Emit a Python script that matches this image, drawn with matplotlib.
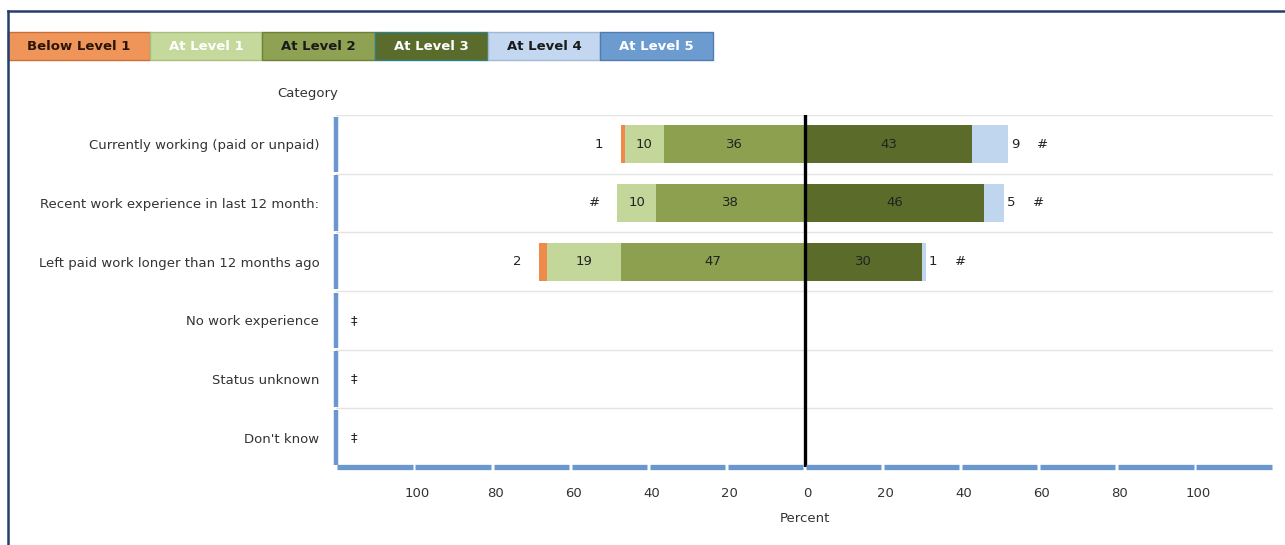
import matplotlib
matplotlib.use("Agg")
import matplotlib.pyplot as plt
from matplotlib.patches import Rectangle
from matplotlib.lines import Line2D
from matplotlib.transforms import ScaledTranslation

categories = [
    "Currently working (paid or unpaid)",
    "Recent work experience in last 12 month:",
    "Left paid work longer than 12 months ago",
    "No work experience",
    "Status unknown",
    "Don't know",
]
below_level1 = [1, 0, 2]
at_level1 = [10, 10, 19]
at_level2 = [36, 38, 47]
at_level3 = [43, 46, 30]
at_level4 = [9, 5, 1]
below_labels = ["1", "#", "2"]
level4_labels = ["9", "5", "1"]
level5_labels = ["#", "#", "#"]
no_data_labels = ["\u2021", "\u2021", "\u2021"]
x_ticks = [-100, -80, -60, -40, -20, 0, 20, 40, 60, 80, 100]

legend_names = ["Below Level 1", "At Level 1", "At Level 2", "At Level 3", "At Level 4", "At Level 5"]
legend_colors = ["#F0955A", "#C6D99C", "#8FA152", "#5A6C2B", "#C3D8F0", "#6C9BD0"]
legend_text = ["#2A1608", "white", "#1A1A1A", "white", "#1A1A1A", "white"]
legend_edges = ["#C87038", "#A9BE7E", "#6F8038", "#2E7F86", "#9FB8D6", "#4F7DB3"]

c_below = "#EE8A4A"
c_l1 = "#C4D79B"
c_l2 = "#8DA050"
c_l3 = "#5B6C2A"
c_l4 = "#C0D6EF"
axis_blue = "#6A98CE"
fs = 9.5

W, H = 1285, 545
fig = plt.figure(figsize=(W / 100, H / 100), dpi=100)
fig.patch.set_facecolor("white")


def fx(px):
    return px / W


def fy(py):
    return 1 - py / H


ax = fig.add_axes([fx(336), fy(467), fx(1273) - fx(336), fy(115) - fy(467)])
ax.set_xlim(-120, 120)
ax.set_ylim(5.5, -0.5)
for s in ax.spines.values():
    s.set_visible(False)
ax.set_xticks([])

n = len(below_level1)
rows = list(range(n))
h = 0.65

# left side stacks outward from zero, right side from zero
left_l2 = [-v for v in at_level2]
left_l1 = [-(a + b) for a, b in zip(at_level2, at_level1)]
left_b = [-(a + b + c) for a, b, c in zip(at_level2, at_level1, below_level1)]

ax.barh(rows, at_level2, left=left_l2, height=h, color=c_l2, zorder=2)
ax.barh(rows, at_level1, left=left_l1, height=h, color=c_l1, zorder=2)
ax.barh(rows, below_level1, left=left_b, height=h, color=c_below, zorder=2)
ax.barh(rows, at_level3, left=0, height=h, color=c_l3, zorder=2)
ax.barh(rows, at_level4, left=at_level3, height=h, color=c_l4, zorder=2)

txt = dict(fontsize=fs, color="#222222", va="center")
for i in rows:
    ax.text(-(at_level2[i] + at_level1[i] / 2), i, str(at_level1[i]), ha="center", **txt)
    ax.text(-at_level2[i] / 2, i, str(at_level2[i]), ha="center", **txt)
    ax.text(at_level3[i] / 2, i, str(at_level3[i]), ha="center", **txt)
    ax.text(left_b[i] - 5.7, i, below_labels[i], ha="center", **txt)
    right_end = at_level3[i] + at_level4[i]
    ax.text(right_end + 0.8, i, level4_labels[i], ha="left", **txt)
    ax.text(right_end + 9.0, i, level5_labels[i], ha="center", **txt)

for j, lab in enumerate(no_data_labels):
    ax.text(-115.5, n + j, lab, ha="center", **txt)

# row separators
for k in range(len(categories)):
    ax.axhline(k - 0.5, color="#E4E4E4", lw=1, zorder=1)

# zero line
ax.axvline(0, color="black", lw=2.4, zorder=3)

# segmented left axis
for k in range(len(categories)):
    ax.plot([-120, -120], [k - 0.47, k + 0.47], color=axis_blue, lw=3.2,
            solid_capstyle="butt", clip_on=False, zorder=4)

# segmented bottom axis with gaps at tick positions
edges = [-120] + x_ticks + [120]
for a, b in zip(edges[:-1], edges[1:]):
    ax.plot([a + 0.35, b - 0.35], [5.5, 5.5], color=axis_blue, lw=3.8,
            solid_capstyle="butt", clip_on=False, zorder=4)

tick_off = ax.transData + ScaledTranslation(0.03, -0.2, fig.dpi_scale_trans)
for t in x_ticks:
    ax.text(t, 5.5, str(abs(t)), transform=tick_off, ha="center", va="top",
            fontsize=fs, color="#333333", clip_on=False)

ax.set_yticks(rows + [n, n + 1, n + 2])
ax.set_yticklabels(categories, fontsize=fs, color="#333333")
ax.tick_params(axis="y", length=0, pad=12)

fig.text(fx(308), fy(93), "Category", ha="center", va="center", fontsize=fs, color="#333333")
fig.text(fx(805), fy(519), "Percent", ha="center", va="center", fontsize=fs, color="#333333")

# legend strip across the top
lx = [8, 150, 262, 375, 488, 600, 713]
for i, name in enumerate(legend_names):
    x0, x1 = lx[i], lx[i + 1]
    fig.patches.append(Rectangle((fx(x0), fy(60)), fx(x1) - fx(x0), fy(32) - fy(60),
                                 transform=fig.transFigure, facecolor=legend_colors[i],
                                 edgecolor=legend_edges[i], lw=1))
    fig.text(fx((x0 + x1) / 2), fy(46), name, ha="center", va="center",
             fontsize=9.5, fontweight="bold", color=legend_text[i])

# outer frame (top and left edges)
fig.lines.append(Line2D([fx(8), 1], [fy(11), fy(11)], transform=fig.transFigure,
                        color="#243F6E", lw=1.8))
fig.lines.append(Line2D([fx(8), fx(8)], [fy(11), 0], transform=fig.transFigure,
                        color="#243F6E", lw=1.8))

fig.savefig("out.png", dpi=100)
